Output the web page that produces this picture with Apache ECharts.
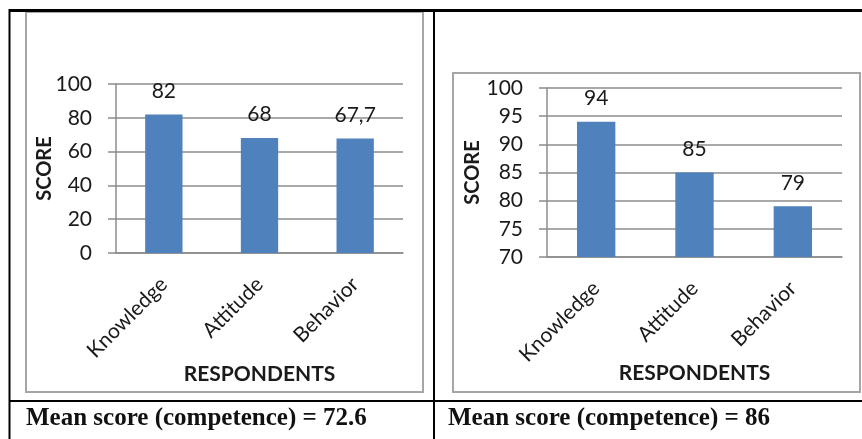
<!DOCTYPE html>
<html>
<head>
<meta charset="utf-8">
<script src="https://cdn.jsdelivr.net/npm/echarts@6/dist/echarts.min.js"></script>
<style>
  html, body { margin: 0; padding: 0; background: #ffffff; }
  #chart { width: 862px; height: 439px; }
</style>
</head>
<body>
<div id="chart"></div>
<script>
// Domains shown on both panels
var categories = ['Knowledge', 'Attitude', 'Behavior'];

// Panel 1: scores on a 0-100 scale
var scoresA = [82, 68, 67.7];
var labelsA = ['82', '68', '67,7'];
var meanA = 'Mean score (competence) = 72.6';

// Panel 2: scores on a 70-100 scale
var scoresB = [94, 85, 79];
var labelsB = ['94', '85', '79'];
var meanB = 'Mean score (competence) = 86';

var sansFont = 'Lato';
var serifFont = 'Liberation Serif';
var textColor = '#1a1a1a';
var gridColor = '#8c8c8c';
var barColor = '#4f81bd';

function yAxisCfg(gridIndex, min, max, interval, nameGap) {
  return {
    type: 'value', gridIndex: gridIndex, min: min, max: max, interval: interval,
    name: 'SCORE', nameLocation: 'middle', nameGap: nameGap, nameRotate: 90,
    nameMoveOverlap: false,
    nameTextStyle: { fontFamily: sansFont, fontWeight: 'bold', fontSize: 20, color: textColor },
    axisLine: { show: true, lineStyle: { color: gridColor, width: 1.5 } },
    axisTick: { show: true, length: 8, lineStyle: { color: gridColor, width: 1.5 } },
    axisLabel: { fontFamily: sansFont, fontSize: 21, color: textColor, margin: 24 },
    splitLine: { show: true, lineStyle: { color: gridColor, width: 1.5 } }
  };
}

function xAxisCfg(gridIndex, nameGap) {
  return {
    type: 'category', gridIndex: gridIndex, data: categories,
    name: 'RESPONDENTS', nameLocation: 'middle', nameGap: nameGap,
    nameMoveOverlap: false,
    nameTextStyle: { fontFamily: sansFont, fontWeight: 'bold', fontSize: 21, color: textColor },
    axisLine: { show: true, lineStyle: { color: gridColor, width: 1.5 } },
    axisTick: { show: false },
    axisLabel: { fontFamily: sansFont, fontSize: 21, color: textColor, rotate: 45, margin: 28, interval: 0 }
  };
}

function barSeries(idx, values, labels) {
  return {
    type: 'bar', xAxisIndex: idx, yAxisIndex: idx,
    data: values, barWidth: '39%',
    itemStyle: { color: barColor },
    label: {
      show: true, position: 'top', distance: 13,
      fontFamily: sansFont, fontSize: 21, color: textColor,
      formatter: function (p) { return labels[p.dataIndex]; }
    }
  };
}

var chart = echarts.init(document.getElementById('chart'), null, { renderer: 'canvas' });

chart.setOption({
  animation: false,
  backgroundColor: '#ffffff',
  grid: [
    { left: 116, top: 84, width: 287, height: 169, containLabel: false },
    { left: 547, top: 88, width: 295, height: 169, containLabel: false }
  ],
  xAxis: [xAxisCfg(0, 111), xAxisCfg(1, 106)],
  yAxis: [yAxisCfg(0, 0, 100, 20, 61), yAxisCfg(1, 70, 100, 5, 64)],
  series: [barSeries(0, scoresA, labelsA), barSeries(1, scoresB, labelsB)],
  graphic: [
    // chart frames
    { type: 'rect', z: -10, shape: { x: 26, y: 12, width: 397, height: 380 },
      style: { fill: '#ffffff', stroke: '#a6a6a6', lineWidth: 2 } },
    { type: 'rect', z: -10, shape: { x: 453, y: 73, width: 407, height: 319 },
      style: { fill: '#ffffff', stroke: '#a6a6a6', lineWidth: 2 } },
    // table rules
    { type: 'line', z: 10, shape: { x1: 9, y1: 10.5, x2: 862, y2: 10.5 },
      style: { stroke: '#000000', lineWidth: 3 } },
    { type: 'line', z: 10, shape: { x1: 9.5, y1: 9, x2: 9.5, y2: 439 },
      style: { stroke: '#000000', lineWidth: 2 } },
    { type: 'line', z: 10, shape: { x1: 434, y1: 9, x2: 434, y2: 439 },
      style: { stroke: '#000000', lineWidth: 2 } },
    { type: 'line', z: 10, shape: { x1: 9, y1: 401, x2: 862, y2: 401 },
      style: { stroke: '#000000', lineWidth: 2 } },
    // mean score captions
    { type: 'text', z: 10, x: 26, y: 419,
      style: { text: meanA, font: 'bold 25px "' + serifFont + '"', fill: '#111111', verticalAlign: 'middle' } },
    { type: 'text', z: 10, x: 448, y: 419,
      style: { text: meanB, font: 'bold 25px "' + serifFont + '"', fill: '#111111', verticalAlign: 'middle' } }
  ]
});
</script>
</body>
</html>
